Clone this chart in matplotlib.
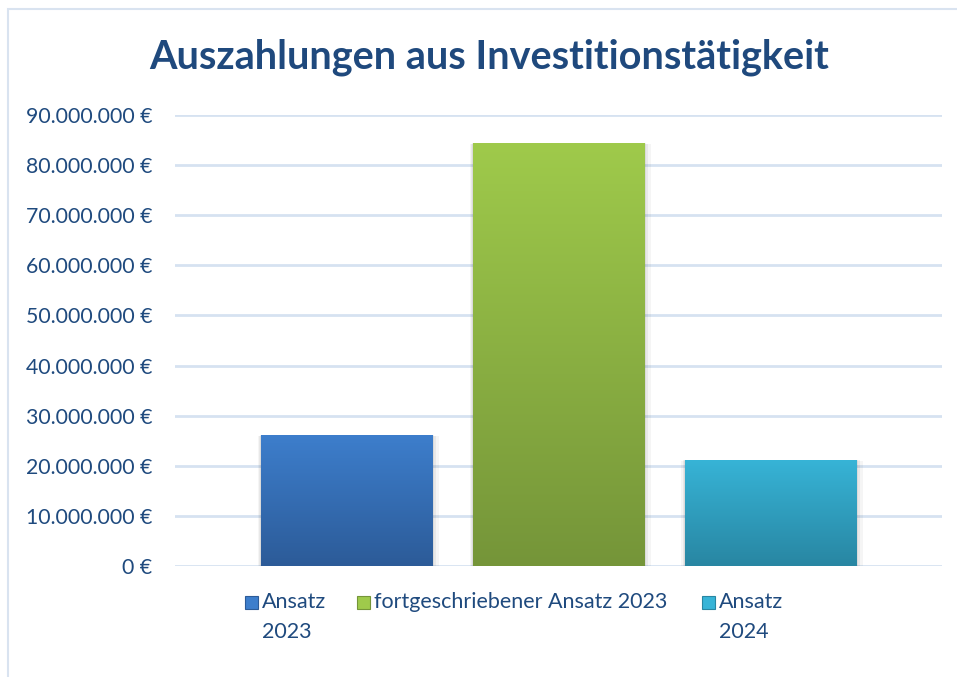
import numpy as np
import matplotlib.pyplot as plt
from matplotlib.patches import Rectangle
from matplotlib.colors import LinearSegmentedColormap

# data
series = ["Ansatz\n2023", "fortgeschriebener Ansatz 2023", "Ansatz\n2024"]
values = [26100000, 84400000, 21200000]
top_colors = ["#3d7ecc", "#9fca4b", "#37b4d7"]
bottom_colors = ["#2c5b98", "#759539", "#2886a2"]
yticks = np.arange(0, 90000001, 10000000)

text_col = "#1f4a7e"
grid_col = "#d6e2f1"

plt.rcParams['font.family'] = ['Lato', 'DejaVu Sans']

fig = plt.figure(figsize=(9.57, 6.77), dpi=100)
W, H = 957, 677
ax = fig.add_axes([175 / W, 1 - 566 / H, (942 - 175) / W, (566 - 115) / H])

positions = [-1.0, 0.0, 1.0]
bw = 0.81

grad = np.linspace(0, 1, 256).reshape(-1, 1)
for x, v, c1, c2 in zip(positions, values, top_colors, bottom_colors):
    # soft shadow
    for k, a in [(0.03, 0.04), (0.018, 0.05), (0.008, 0.06)]:
        ax.add_patch(Rectangle((x - bw / 2 - k / 2, -k * 25000000), bw + k * 1.5, v + k * 20000000,
                               color="#000000", alpha=a, lw=0, zorder=2))
    cmap = LinearSegmentedColormap.from_list("g", [c2, c1])
    bar = ax.bar(x, v, width=bw, color="none", lw=0, zorder=3)[0]
    im = ax.imshow(grad, cmap=cmap, aspect="auto", origin="lower",
                   extent=(x - bw / 2, x + bw / 2, 0, v), zorder=3)
    im.set_clip_path(bar)

ax.set_xlim(-1.81, 1.81)
ax.set_ylim(0, 90000000)
ax.set_yticks(yticks)
ax.set_yticklabels([("{:,}".format(t).replace(",", ".") + " €") if t else "0 €" for t in yticks])
ax.tick_params(axis="y", length=0, pad=16.5, labelsize=15.3, labelcolor=text_col)
ax.set_xticks([])
ax.grid(axis="y", color=grid_col, lw=2)
ax.set_axisbelow(True)
for s in ax.spines.values():
    s.set_visible(False)

fig.text(489 / W, 1 - 57 / H, "Auszahlungen aus Investitionstätigkeit", ha="center", va="center",
         fontsize=28.5, fontweight="bold", color="#1f497d")

# legend
leg_x = [245, 357, 702]
for lx, lab, c1, c2 in zip(leg_x, series, top_colors, bottom_colors):
    fig.patches.append(Rectangle((lx / W, 1 - 609 / H), 13 / W, 13 / H, transform=fig.transFigure,
                                 facecolor=c1, edgecolor=c2, lw=0.8))
    fig.text((lx + 17) / W, 1 - 592 / H, lab, ha="left", va="top", fontsize=15.5,
             color=text_col, linespacing=1.6)

# chart border
fig.patches.append(Rectangle((8 / W, -0.01), 1.1, 1 - 9 / H + 0.01, transform=fig.transFigure,
                             fill=False, edgecolor="#d9e3f0", lw=1.5))

fig.savefig("out.png", dpi=100)
